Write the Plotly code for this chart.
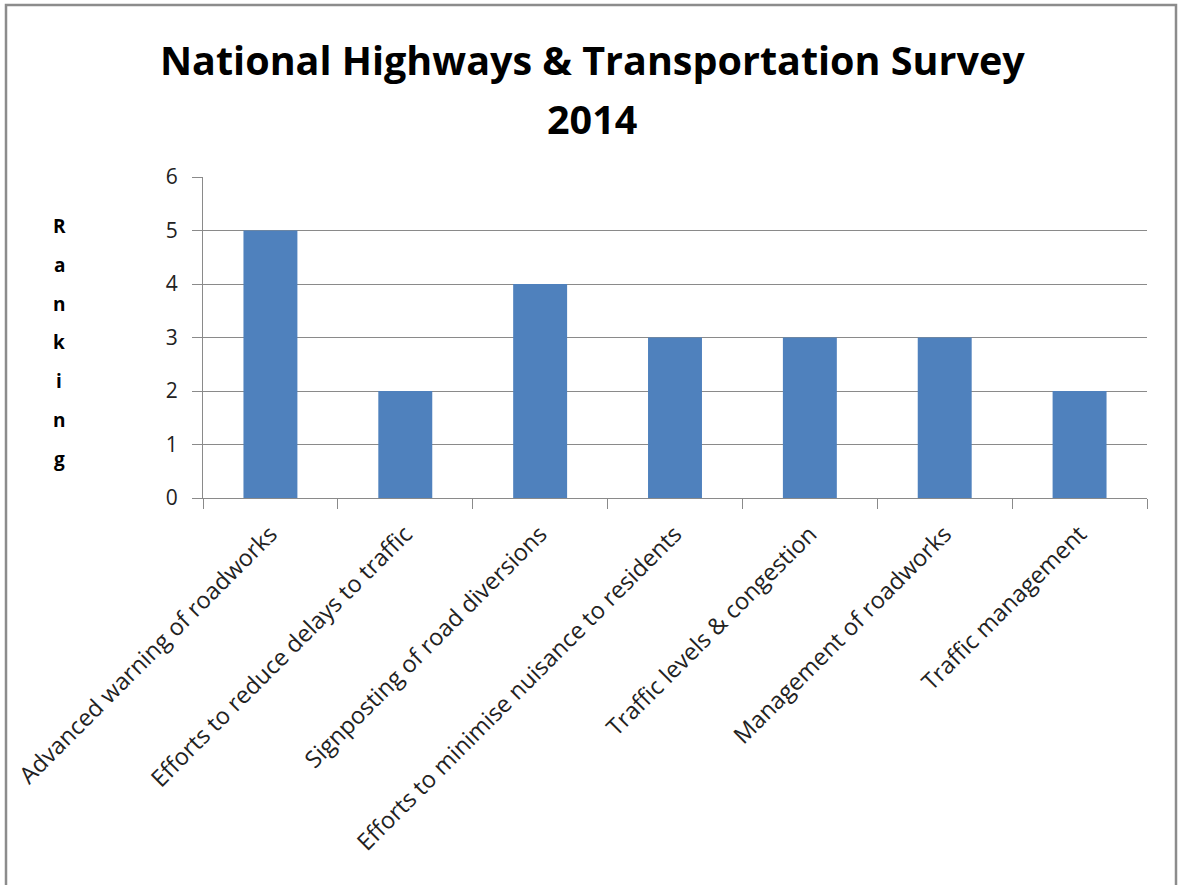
import plotly.graph_objects as go

categories = [
    "Advanced warning of roadworks",
    "Efforts to reduce delays to traffic",
    "Signposting of road diversions",
    "Efforts to minimise nuisance to residents",
    "Traffic levels & congestion",
    "Management of roadworks",
    "Traffic management",
]
rankings = [5, 2, 4, 3, 3, 3, 2]
y_ticks = [0, 1, 2, 3, 4, 5, 6]
title_lines = ["National Highways & Transportation Survey", "2014"]
y_title = "Ranking"

W, H = 1180, 885
L, R, T, B = 203, 33, 177, 387
pw, ph = W - L - R, H - T - B

FONT = "Open Sans"
GRID = "#8a8a8a"


def px_x(x):
    return (x - L) / pw


def px_y(y):
    return (H - B - y) / ph


fig = go.Figure(go.Bar(
    x=categories, y=rankings,
    marker=dict(color="#4F81BD", line=dict(width=0)),
    width=0.4,
))

annotations = []
for i, line in enumerate(title_lines):
    annotations.append(dict(
        text="<b>" + line + "</b>", xref="paper", yref="paper",
        x=px_x(592), y=px_y(60 + 59 * i), xanchor="center", yanchor="middle",
        showarrow=False, font=dict(family=FONT, size=39.5, color="black"),
    ))
for i, ch in enumerate(y_title):
    annotations.append(dict(
        text="<b>" + ch + "</b>", xref="paper", yref="paper",
        x=px_x(59), y=px_y(226 + 38.8 * i), xanchor="center", yanchor="middle",
        showarrow=False, font=dict(family=FONT, size=19, color="black"),
    ))

fig.update_layout(
    width=W, height=H,
    margin=dict(l=L, r=R, t=T, b=B),
    paper_bgcolor="white", plot_bgcolor="white",
    showlegend=False,
    font=dict(family=FONT, color="#222222", size=18),
    xaxis=dict(
        type="category",
        tickangle=-45,
        tickson="boundaries",
        ticks="outside", ticklen=10, tickcolor=GRID, tickwidth=1,
        showline=True, linecolor=GRID, linewidth=1,
        showgrid=False,
        ticklabelstandoff=12,
        tickfont=dict(family=FONT, size=23.5, color="#222222"),
    ),
    yaxis=dict(
        range=[0, 6],
        tickvals=y_ticks,
        ticks="outside", ticklen=10, tickcolor=GRID, tickwidth=1,
        showline=True, linecolor=GRID, linewidth=1,
        showgrid=True, gridcolor=GRID, gridwidth=1,
        zeroline=False,
        ticklabelstandoff=10,
        tickfont=dict(family=FONT, size=21, color="#222222"),
    ),
    shapes=[
        dict(type="rect", xref="paper", yref="paper",
             x0=px_x(6), x1=px_x(1176), y0=px_y(900), y1=px_y(5),
             line=dict(color="#8c8c8c", width=2.5), fillcolor="rgba(0,0,0,0)",
             layer="below"),
    ],
    annotations=annotations,
)

fig.write_html("out.html")
